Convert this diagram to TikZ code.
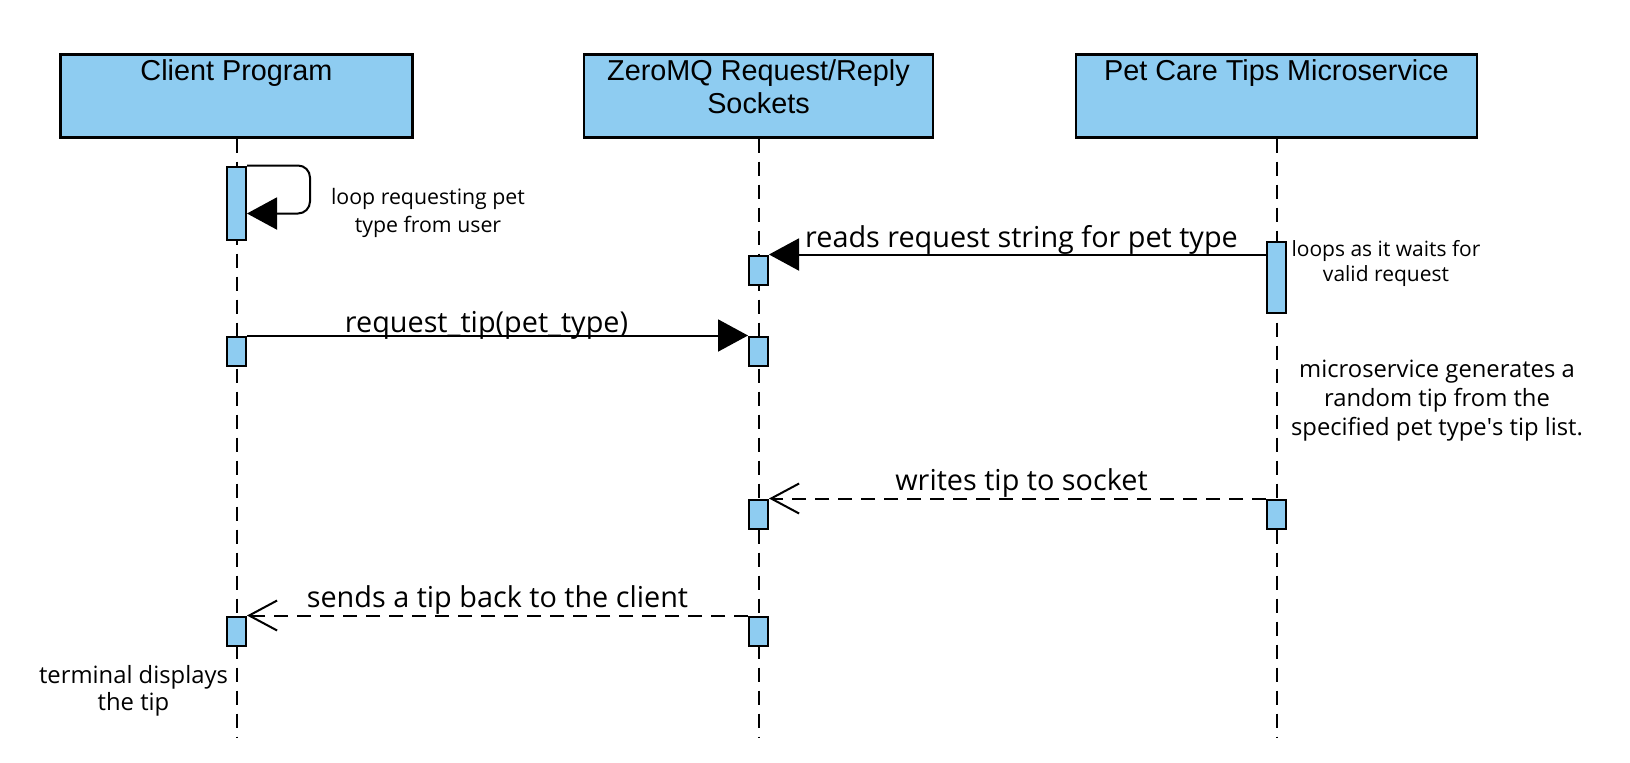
\documentclass[tikz,border=0pt]{standalone}
\usepackage{fontspec}
\setmainfont{Open Sans}
\newfontfamily\headfont{Liberation Sans}
\usetikzlibrary{arrows.meta}
\definecolor{actblue}{RGB}{142,204,241}
\begin{document}
\begin{tikzpicture}
	[x=0.5pt,y=-0.5pt,
	head/.style={rectangle,draw,line width=1.2pt,fill=actblue,minimum height=41.5pt,inner sep=0pt},
	headtext/.style={font=\headfont\fontsize{14.4}{16.5}\selectfont,align=center,anchor=base},
	act/.style={rectangle,draw,line width=1pt,fill=actblue,minimum width=9.5pt,minimum height=14.5pt,inner sep=0pt},
	lifeline/.style={line width=1pt,dash pattern=on 7pt off 4.5pt},
	msg/.style={-{Triangle[length=15pt,width=16pt]},line width=1pt},
	reply/.style={-{Straight Barb[length=14pt,width=15pt]},line width=1pt,dash pattern=on 7pt off 4.5pt},
	lbl/.style={font=\fontsize{14.4}{17}\selectfont,anchor=base,yshift=4pt},
	note/.style={font=\fontsize{11.9}{14.5}\selectfont,align=center,anchor=base}]
	\useasboundingbox (0,0) rectangle (1630,762);
	\node[head,minimum width=176pt,name=client] at (236.5,96) {};
	\node[head,minimum width=174.5pt,name=zmq] at (758.5,96) {};
	\node[head,minimum width=200.5pt,name=pet] at (1276.5,96) {};
	\node[headtext,name=client-t] at (236.5,80.5) {Client Program};
	\node[headtext,name=zmq-t] at (758.5,113.5) {ZeroMQ Request/Reply\\Sockets};
	\node[headtext,name=pet-t] at (1276.5,80.5) {Pet Care Tips Microservice};
	\coordinate (client-end) at (236.5,738);
	\coordinate (zmq-end) at (758.5,738);
	\coordinate (pet-end) at (1276.5,738);
	\draw[lifeline](client)--(client-end);
	\draw[lifeline](zmq)--(zmq-end);
	\draw[lifeline](pet)--(pet-end);
	\node[act,minimum height=36.5pt,name=ca1] at (236.5,203) {};
	\node[act,name=za1] at (758.5,270) {};
	\node[act,minimum height=35.5pt,name=pa1] at (1276.5,277) {};
	\node[act,name=ca2] at (236.5,351) {};
	\node[act,name=za2] at (758.5,351) {};
	\node[act,name=za3] at (758.5,514) {};
	\node[act,name=pa2] at (1276.5,514) {};
	\node[act,name=ca3] at (236.5,631) {};
	\node[act,name=za4] at (758.5,631) {};
	\draw[msg,rounded corners=6pt](ca1.north east)-|++(63,48)--++(-63,0);
	\draw[msg](pa1.west|-za1.north)--(za1.north east)
		node[lbl,midway,yshift=-0.5pt,xshift=2pt]{reads request string for pet type};
	\draw[msg](ca2.north east)--(za2.north west)
		node[lbl,midway,yshift=-2.5pt,xshift=-5.5pt]{request\_tip(pet\_type)};
	\draw[reply](pa2.north west)--(za3.north east)
		node[lbl,midway,xshift=2pt]{writes tip to socket};
	\draw[reply](za4.north west)--(ca3.north east)
		node[lbl,midway]{sends a tip back to the client};
	\node[note,font=\fontsize{10.65}{14}\selectfont,name=loop-n] at (428,232) {loop requesting pet\\type from user};
	\node[note,font=\fontsize{10.5}{12.5}\selectfont,name=wait-n] at (1386,281) {loops as it waits for\\valid request};
	\node[note,name=gen-n] at (1437,435) {microservice generates a\\random tip from the\\specified pet type\textquotesingle s tip list.};
	\node[note,font=\fontsize{11.9}{13.5}\selectfont,name=term-n] at (133.5,710) {terminal displays\\the tip};
\end{tikzpicture}
\end{document}
